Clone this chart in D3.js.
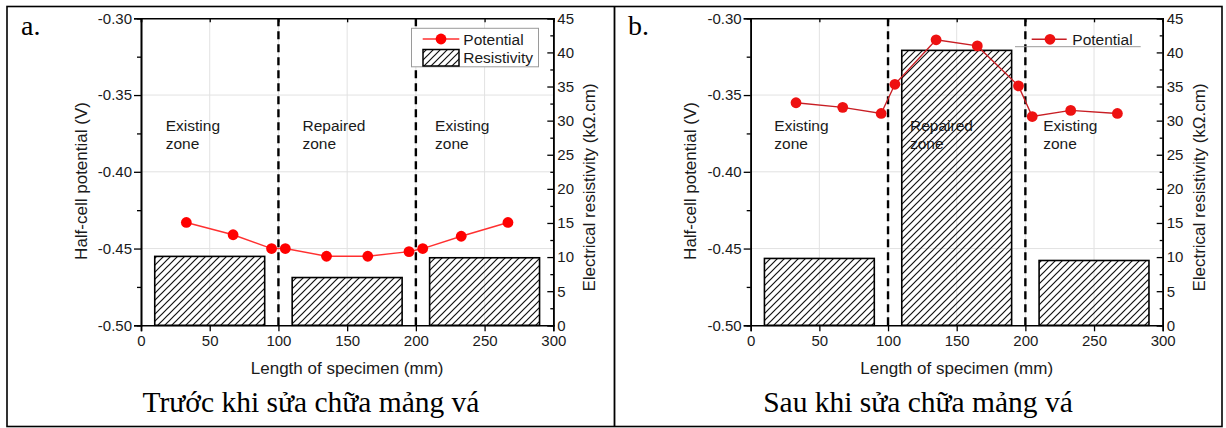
<!DOCTYPE html>
<html>
<head>
<meta charset="utf-8">
<script src="https://cdn.jsdelivr.net/npm/d3@7"></script>
<style>
  html, body { margin: 0; padding: 0; background: #fff; }
  svg { display: block; }
  text { font-family: "Liberation Sans", Arial, sans-serif; fill: #1a1a1a; }
  text.serif { font-family: "Liberation Serif", "Times New Roman", serif; fill: #000; }
</style>
</head>
<body>
<svg id="chart" width="1226" height="428"></svg>
<script>
// ---------------- DATA ----------------
const positions = [33, 67, 95, 105, 135, 165, 195, 205, 233, 267];          // mm
const potentialBefore = [-0.433, -0.441, -0.450, -0.450, -0.455, -0.455, -0.452, -0.450, -0.442, -0.433];
const potentialAfter  = [-0.355, -0.358, -0.362, -0.343, -0.314, -0.318, -0.344, -0.364, -0.360, -0.362];
const zoneStart = [10, 110, 210];                                            // mm
const zoneEnd   = [90, 190, 290];                                            // mm
const resistivityBefore = [10.1, 7.0, 9.9];                                  // kΩ.cm
const resistivityAfter  = [9.8, 40.3, 9.5];                                  // kΩ.cm
const zoneNames = [["Existing", "zone"], ["Repaired", "zone"], ["Existing", "zone"]];
const boundaries = [100, 200];
const xTicks = [0, 50, 100, 150, 200, 250, 300];
const yLeftTicks = [-0.30, -0.35, -0.40, -0.45, -0.50];
const yRightTicks = [0, 5, 10, 15, 20, 25, 30, 35, 40, 45];
const captions = ["Trước khi sửa chữa mảng vá", "Sau khi sửa chữa mảng vá"];
const panelLabels = ["a.", "b."];

// ---------------- DRAW ----------------
const svg = d3.select("#chart");
const defs = svg.append("defs");
const pat = defs.append("pattern").attr("id", "hatch")
  .attr("patternUnits", "userSpaceOnUse").attr("width", 7).attr("height", 7);
pat.append("path").attr("d", "M-1,1 l2,-2 M0,7 l7,-7 M6,8 l2,-2")
  .attr("stroke", "#111").attr("stroke-width", 1.2);

// table frame
svg.append("rect").attr("x", 7).attr("y", 6.5).attr("width", 1215).attr("height", 420)
  .attr("fill", "none").attr("stroke", "#000").attr("stroke-width", 1.6);
svg.append("line").attr("x1", 614.5).attr("x2", 614.5).attr("y1", 6.5).attr("y2", 426.5)
  .attr("stroke", "#000").attr("stroke-width", 1.8);

function drawPanel(cfg) {
  const g = svg.append("g");
  const x = d3.scaleLinear().domain([0, 300]).range([cfg.x0, cfg.x1]);
  const y = d3.scaleLinear().domain([-0.50, -0.30]).range([325.3, 18.3]);
  const yR = d3.scaleLinear().domain([0, 45]).range([325.3, 18.3]);

  // grid
  const grid = g.append("g").attr("stroke", "#e2e2e2").attr("stroke-width", 1);
  grid.selectAll("line.v").data(xTicks.slice(1, -1)).join("line")
    .attr("x1", d => x(d)).attr("x2", d => x(d)).attr("y1", y(-0.30)).attr("y2", y(-0.50));
  grid.selectAll("line.h").data(yLeftTicks.slice(1, -1)).join("line")
    .attr("y1", d => y(d)).attr("y2", d => y(d)).attr("x1", x(0)).attr("x2", x(300));

  // zone labels
  zoneNames.forEach((lines, i) => {
    const t = g.append("text").attr("x", x(cfg.labX[i])).attr("y", 130.7).attr("font-size", 15.5);
    lines.forEach((s, j) => t.append("tspan").attr("x", x(cfg.labX[i])).attr("dy", j ? 18.5 : 0).text(s));
  });

  // bars
  g.append("g").selectAll("rect").data(cfg.res).join("rect")
    .attr("x", (d, i) => x(zoneStart[i]))
    .attr("width", (d, i) => x(zoneEnd[i]) - x(zoneStart[i]))
    .attr("y", d => yR(d)).attr("height", d => yR(0) - yR(d))
    .attr("fill", "url(#hatch)").attr("stroke", "#000").attr("stroke-width", 1.6);

  // boundaries
  g.append("g").selectAll("line").data(boundaries).join("line")
    .attr("x1", d => x(d)).attr("x2", d => x(d)).attr("y1", y(-0.30)).attr("y2", y(-0.50))
    .attr("stroke", "#000").attr("stroke-width", 2.4).attr("stroke-dasharray", "8,5");

  // potential line + points
  const pts = positions.map((p, i) => [p, cfg.pot[i]]);
  g.append("path").datum(pts)
    .attr("d", d3.line().x(d => x(d[0])).y(d => y(d[1])))
    .attr("fill", "none").attr("stroke", cfg.lineColor).attr("stroke-width", 1.4);
  g.append("g").selectAll("circle").data(pts).join("circle")
    .attr("cx", d => x(d[0])).attr("cy", d => y(d[1])).attr("r", 5.4)
    .attr("fill", cfg.dotColor);

  // axes
  const fmt = d => d.toFixed(2);
  const minorLeft = d3.range(-0.50, -0.299, 0.025).map(v => +v.toFixed(3)).filter(v => !yLeftTicks.some(t => Math.abs(t - v) < 1e-6));
  const minorRight = d3.range(2.5, 45, 5);

  g.append("g").attr("transform", `translate(${x(0)},0)`)
    .call(d3.axisLeft(y).tickValues(yLeftTicks).tickSize(7).tickPadding(2).tickFormat(fmt));
  g.append("g").attr("transform", `translate(${x(0)},0)`)
    .call(d3.axisLeft(y).tickValues(minorLeft).tickSize(4).tickFormat(""));
  g.append("g").attr("transform", `translate(${x(300)},0)`)
    .call(d3.axisRight(yR).tickValues(yRightTicks).tickSize(-6).tickPadding(4).tickFormat(d3.format("d")));
  g.append("g").attr("transform", `translate(${x(300)},0)`)
    .call(d3.axisRight(yR).tickValues(minorRight).tickSize(-3).tickFormat(""));
  g.append("g").attr("transform", `translate(0,${y(-0.50)})`)
    .call(d3.axisBottom(x).tickValues(xTicks).tickSize(6).tickPadding(4).tickFormat(d3.format("d")));
  g.append("g").attr("transform", `translate(0,${y(-0.30)})`)
    .call(d3.axisTop(x).tickValues(xTicks).tickSize(-4).tickFormat(""));
  g.selectAll(".domain").attr("stroke", "#000").attr("stroke-width", 1.6);
  g.selectAll(".tick line").attr("stroke", "#000").attr("stroke-width", 1.3);
  g.selectAll(".tick text").attr("font-size", 15).attr("fill", "#1a1a1a");

  // axis titles
  g.append("text").attr("transform", `translate(${cfg.x0 - 54.5},${181}) rotate(-90)`)
    .attr("text-anchor", "middle").attr("font-size", 17).text("Half-cell potential (V)");
  g.append("text").attr("transform", `translate(${cfg.x1 + 42},${187.5}) rotate(-90)`)
    .attr("text-anchor", "middle").attr("font-size", 17).text("Electrical resistivity (kΩ.cm)");
  g.append("text").attr("x", (cfg.x0 + cfg.x1) / 2).attr("y", 374)
    .attr("text-anchor", "middle").attr("font-size", 17).text("Length of specimen (mm)");

  // caption and label
  g.append("text").attr("class", "serif").attr("x", cfg.capX).attr("y", 412)
    .attr("text-anchor", "middle").attr("font-size", 29.5).text(cfg.caption);
  g.append("text").attr("class", "serif").attr("x", cfg.labelX).attr("y", 35)
    .attr("font-size", 28).text(cfg.label);

  cfg.legend(g, x);
}

drawPanel({
  x0: 141, x1: 553.3, pot: potentialBefore, res: resistivityBefore,
  lineColor: "#ff3030", dotColor: "#ff0000", labX: [18, 117.5, 214],
  caption: captions[0], capX: 311, label: panelLabels[0], labelX: 21,
  legend: (g) => {
    const L = g.append("g");
    L.append("rect").attr("x", 411.5).attr("y", 28.3).attr("width", 127).attr("height", 38.5)
      .attr("fill", "#fff").attr("stroke", "#9a9a9a").attr("stroke-width", 1);
    L.append("line").attr("x1", 422.7).attr("x2", 459.3).attr("y1", 39).attr("y2", 39)
      .attr("stroke", "#ff3030").attr("stroke-width", 1.6);
    L.append("circle").attr("cx", 441).attr("cy", 39).attr("r", 5.4).attr("fill", "#ff0000");
    L.append("text").attr("x", 463.3).attr("y", 44.6).attr("font-size", 15.5).text("Potential");
    L.append("rect").attr("x", 423).attr("y", 49.5).attr("width", 36).attr("height", 16.5)
      .attr("fill", "url(#hatch)").attr("stroke", "#000").attr("stroke-width", 1.5);
    L.append("text").attr("x", 463.3).attr("y", 62.7).attr("font-size", 15.5).text("Resistivity");
  }
});

drawPanel({
  x0: 750.7, x1: 1162.7, pot: potentialAfter, res: resistivityAfter,
  lineColor: "#c81e24", dotColor: "#ee1111", labX: [17.2, 116, 213],
  caption: captions[1], capX: 918, label: panelLabels[1], labelX: 628,
  legend: (g) => {
    const L = g.append("g");
    L.append("line").attr("x1", 1015).attr("x2", 1140.7).attr("y1", 46.7).attr("y2", 46.7)
      .attr("stroke", "#9a9a9a").attr("stroke-width", 1);
    L.append("line").attr("x1", 1031.7).attr("x2", 1066.7).attr("y1", 39.3).attr("y2", 39.3)
      .attr("stroke", "#c81e24").attr("stroke-width", 1.4);
    L.append("circle").attr("cx", 1050).attr("cy", 39.3).attr("r", 5.4).attr("fill", "#ee1111");
    L.append("text").attr("x", 1072.3).attr("y", 44.6).attr("font-size", 15.5).text("Potential");
  }
});
</script>
</body>
</html>
